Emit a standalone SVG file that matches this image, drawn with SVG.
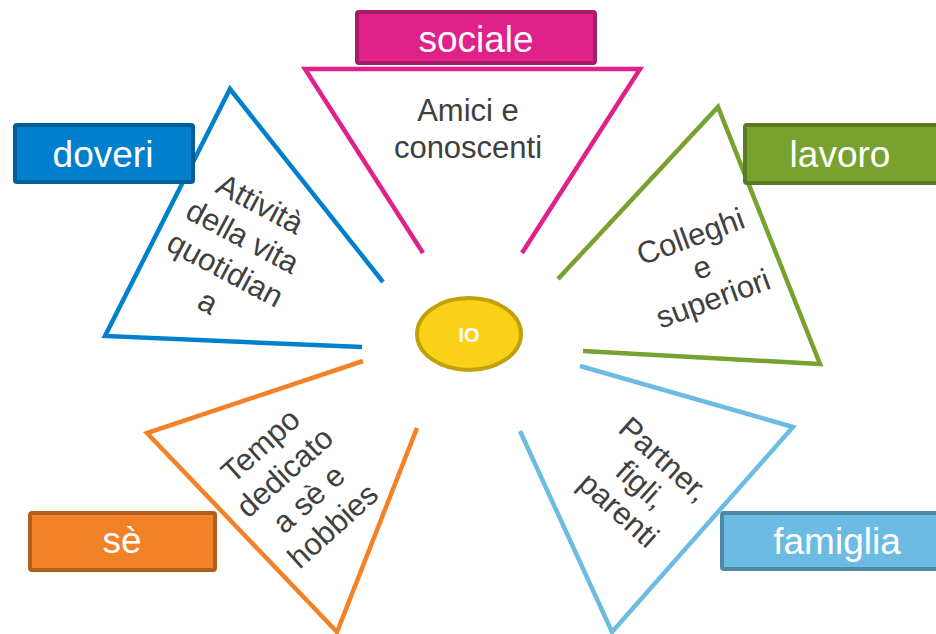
<svg xmlns="http://www.w3.org/2000/svg" width="936" height="634" viewBox="0 0 936 634">
<style>
.tri{fill:none;stroke-width:4.5;stroke-linejoin:miter;stroke-linecap:butt}
.lbl{stroke-width:4}
.lt{font-family:"Liberation Sans",Arial,sans-serif;font-size:37px;fill:#fff;text-anchor:middle}
.tt{font-family:"Liberation Sans",Arial,sans-serif;font-size:31px;fill:#404040;text-anchor:middle}
</style>
<rect width="936" height="634" fill="#fff"/>
<g id="connectors">
<polyline class="tri" stroke="#E0218A" points="423,253 305,69 640,69 522,253"/>
<polyline class="tri" stroke="#0080CC" points="383,282 230,89 105,336 362,347"/>
<polyline class="tri" stroke="#78A22F" points="558,279 718,107 820,364 583,351"/>
<polyline class="tri" stroke="#F28127" points="363,361 147,433 337,632 417,428"/>
<polyline class="tri" stroke="#6BBBE2" points="580,366 793,427 612,632 520,431"/>
</g>
<g id="io">
<ellipse cx="469" cy="334" rx="52" ry="36" fill="#F9D116" stroke="#C2A00C" stroke-width="4"/>
<text x="469" y="342" font-family="Liberation Sans,Arial,sans-serif" font-size="20" font-weight="bold" fill="#fff" text-anchor="middle">IO</text>
</g>
<g id="sociale">
<rect class="lbl" x="357" y="12" width="238" height="51" rx="2" fill="#E0218A" stroke="#A61A66"/>
<text class="lt" x="476" y="52">sociale</text>
<text class="tt"><tspan x="468" y="121">Amici e</tspan><tspan x="468" y="158">conoscenti</tspan></text>
</g>
<g id="doveri">
<rect class="lbl" x="15" y="125" width="178" height="57" rx="2" fill="#0080CC" stroke="#005E98"/>
<text class="lt" x="103" y="167">doveri</text>
<text class="tt" transform="translate(234,253) rotate(28)"><tspan x="0" y="-45">Attività</tspan><tspan x="0" y="-8">della vita</tspan><tspan x="0" y="29">quotidian</tspan><tspan x="0" y="66">a</tspan></text>
</g>
<g id="lavoro">
<rect class="lbl" x="745" y="125" width="200" height="58" rx="2" fill="#78A22F" stroke="#5A7A22"/>
<text class="lt" x="840" y="167">lavoro</text>
<text class="tt" transform="translate(702,268) rotate(-20)"><tspan x="0" y="-23">Colleghi</tspan><tspan x="0" y="10">e</tspan><tspan x="0" y="43">superiori</tspan></text>
</g>
<g id="se">
<rect class="lbl" x="30" y="513" width="185" height="57" rx="2" fill="#F28127" stroke="#B45E1D"/>
<text class="lt" x="122" y="553">sè</text>
<text class="tt" transform="translate(297,486) rotate(-42)"><tspan x="0" y="-44">Tempo</tspan><tspan x="0" y="-8">dedicato</tspan><tspan x="0" y="28">a sè e</tspan><tspan x="0" y="64">hobbies</tspan></text>
</g>
<g id="famiglia">
<rect class="lbl" x="722" y="513" width="230" height="56" rx="2" fill="#6BBBE2" stroke="#4D89A6"/>
<text class="lt" x="837" y="554">famiglia</text>
<text class="tt" transform="translate(641,485) rotate(42)"><tspan x="0" y="-24">Partner,</tspan><tspan x="0" y="10">figli,</tspan><tspan x="0" y="44">parenti</tspan></text>
</g>
</svg>
